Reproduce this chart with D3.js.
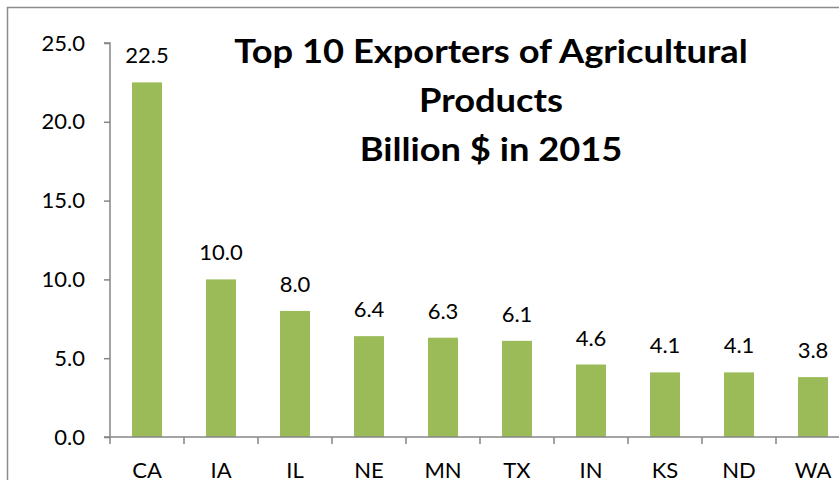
<!DOCTYPE html>
<html>
<head>
<meta charset="utf-8">
<script src="https://cdn.jsdelivr.net/npm/d3@7"></script>
<style>
  body { margin: 0; background: #fff; }
  svg { display: block; font-family: Lato, "Open Sans", sans-serif; }
</style>
</head>
<body>
<svg id="chart"></svg>
<script>
// data
const states = ["CA", "IA", "IL", "NE", "MN", "TX", "IN", "KS", "ND", "WA"];
const exports = [22.5, 10.0, 8.0, 6.4, 6.3, 6.1, 4.6, 4.1, 4.1, 3.8];
const yTicks = [0, 5, 10, 15, 20, 25];
const titleLines = ["Top 10 Exporters of Agricultural", "Products", "Billion $ in 2015"];

const width = 839, height = 480;
const margin = {top: 43, left: 110, bottom: 43};
const fs = 22;

const svg = d3.select("#chart")
    .attr("width", width)
    .attr("height", height);

// outer chart frame (cropped at right / bottom)
svg.append("rect")
    .attr("x", 7.5).attr("y", 7.5)
    .attr("width", 900).attr("height", 600)
    .attr("fill", "none")
    .attr("stroke", "#8c8c8c")
    .attr("stroke-width", 1.5);

const x = d3.scaleBand()
    .domain(states)
    .range([margin.left, margin.left + 74 * states.length])
    .paddingInner(0.595)
    .paddingOuter(0.2975);

const y = d3.scaleLinear()
    .domain([0, 25])
    .range([437, margin.top]);

// bars
svg.append("g").selectAll("rect")
    .data(states)
    .join("rect")
    .attr("x", d => x(d))
    .attr("y", (d, i) => y(exports[i]))
    .attr("width", x.bandwidth())
    .attr("height", (d, i) => y(0) - y(exports[i]))
    .attr("fill", "#9bbb59");

// value labels
svg.append("g").selectAll("text")
    .data(states)
    .join("text")
    .attr("x", d => x(d) + x.bandwidth() / 2)
    .attr("y", (d, i) => y(exports[i]) - 19)
    .attr("text-anchor", "middle")
    .attr("font-size", fs)
    .attr("fill", "#000")
    .text((d, i) => exports[i].toFixed(1));

// y axis
const yAxis = d3.axisLeft(y)
    .tickValues(yTicks)
    .tickSize(6)
    .tickPadding(19)
    .tickFormat(d3.format(".1f"));

const yg = svg.append("g")
    .attr("transform", `translate(${margin.left},0)`)
    .call(yAxis);
yg.select(".domain").attr("stroke", "#868686").attr("stroke-width", 1.5)
    .attr("d", `M-6,${y(25)}H0V${y(0)}`);
yg.selectAll(".tick line").attr("stroke", "#868686").attr("stroke-width", 1.5);
yg.selectAll(".tick text")
    .attr("font-size", fs)
    .attr("font-family", "Lato, sans-serif")
    .attr("fill", "#000");

// x axis: ticks sit on band edges
const xg = svg.append("g")
    .attr("transform", `translate(0,${y(0)})`);
xg.append("line")
    .attr("x1", margin.left - 6).attr("x2", width)
    .attr("stroke", "#868686").attr("stroke-width", 1.5);
xg.selectAll(".edge")
    .data(states)
    .join("line")
    .attr("class", "edge")
    .attr("x1", d => x(d) - x.step() * x.paddingOuter())
    .attr("x2", d => x(d) - x.step() * x.paddingOuter())
    .attr("y1", 0).attr("y2", 7)
    .attr("stroke", "#868686").attr("stroke-width", 1.5);
xg.selectAll(".lbl")
    .data(states)
    .join("text")
    .attr("class", "lbl")
    .attr("x", d => x(d) + x.bandwidth() / 2)
    .attr("y", 41)
    .attr("text-anchor", "middle")
    .attr("font-size", fs)
    .attr("fill", "#000")
    .text(d => d);

// title, slightly widened to match the reference lettering
svg.append("g").selectAll("text")
    .data(titleLines)
    .join("text")
    .attr("transform", (d, i) => `translate(491,${63 + i * 49}) scale(1.1,1)`)
    .attr("text-anchor", "middle")
    .attr("font-size", 33)
    .attr("font-weight", "bold")
    .attr("fill", "#000")
    .text(d => d);
</script>
</body>
</html>
